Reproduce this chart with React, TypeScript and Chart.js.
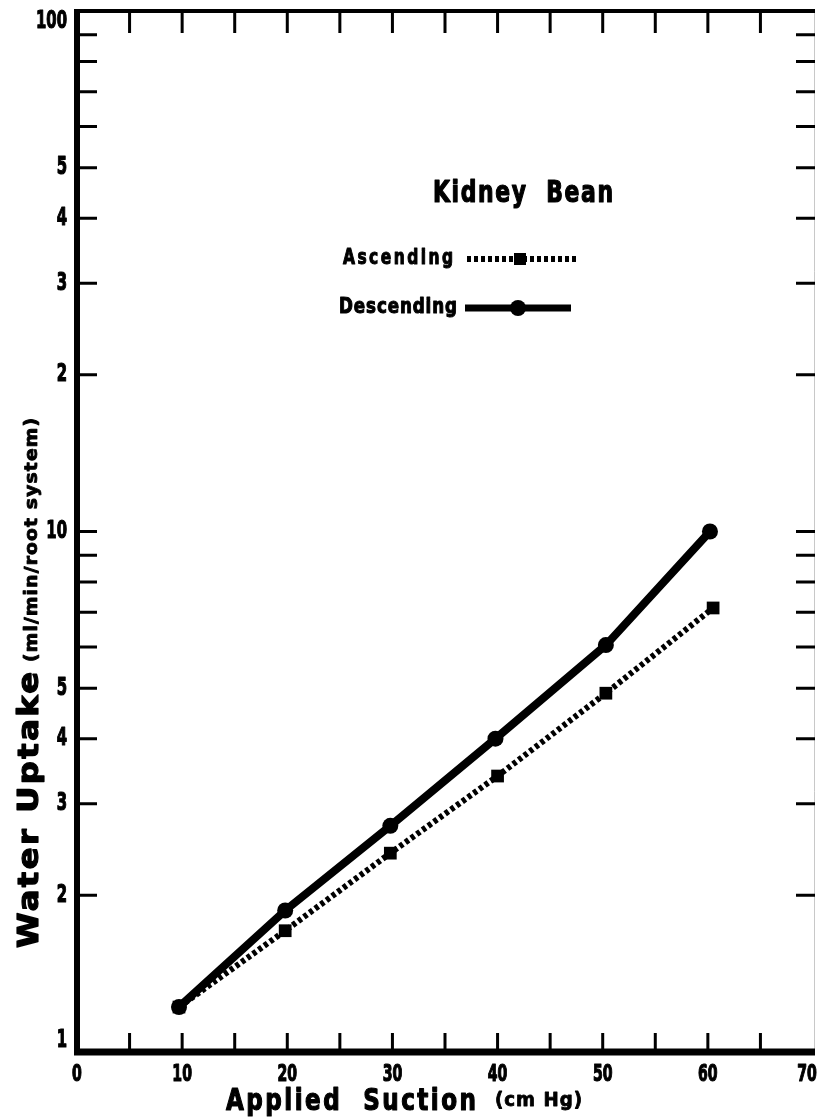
import React, { useEffect, useRef } from "react";
import { Chart, registerables } from "chart.js";

Chart.register(...registerables);

// Applied suction (cm Hg) and water uptake (ml/min/root system)
const descendingSuction = [9.7, 19.8, 29.8, 39.8, 50.3, 60.2];
const descendingUptake = [1.22, 1.87, 2.72, 4.0, 6.05, 10.0];
const ascendingSuction = [9.7, 19.8, 29.8, 40.0, 50.3, 60.5];
const ascendingUptake = [1.22, 1.71, 2.41, 3.39, 4.89, 7.13];

// Axis ticks
const xLabelTicks = [0, 10, 20, 30, 40, 50, 60, 70];
const xTickMarks = [5, 10, 15, 20, 25, 30, 35, 40, 45, 50, 55, 60, 65];
const yLabelTicks = [1, 2, 3, 4, 5, 10, 20, 30, 40, 50, 100];
const yLabelText = ["1", "2", "3", "4", "5", "10", "2", "3", "4", "5", "100"];
const yTickMarks = [2, 3, 4, 5, 6, 7, 8, 9, 10, 20, 30, 40, 50, 60, 70, 80, 90];

const FONT_FAMILY = '"DejaVu Sans Condensed", "DejaVu Sans", sans-serif';

function paintText(ctx: CanvasRenderingContext2D, text: string, x: number, heavy: number) {
  ctx.fillText(text, x, 0);
  if (heavy > 0) {
    ctx.lineWidth = heavy;
    ctx.lineJoin = "round";
    ctx.strokeStyle = "#000";
    ctx.strokeText(text, x, 0);
  }
}

function drawText(
  ctx: CanvasRenderingContext2D,
  text: string,
  x: number,
  y: number,
  size: number,
  sx: number,
  align: "left" | "right" | "center",
  heavy = 1
) {
  ctx.save();
  ctx.font = `bold ${size}px ${FONT_FAMILY}`;
  const w = ctx.measureText(text).width;
  ctx.translate(x, y);
  ctx.scale(sx, 1);
  ctx.textAlign = "left";
  ctx.textBaseline = "middle";
  let ox = 0;
  if (align === "right") ox = -w;
  if (align === "center") ox = -w / 2;
  paintText(ctx, text, ox, heavy);
  ctx.restore();
}

// Draws text squeezed or stretched horizontally to span a given width
function drawFitted(
  ctx: CanvasRenderingContext2D,
  text: string,
  x: number,
  y: number,
  width: number,
  size: number,
  spacing = 0,
  heavy = 1
) {
  ctx.save();
  ctx.font = `bold ${size}px ${FONT_FAMILY}`;
  (ctx as any).letterSpacing = `${spacing}px`;
  const w = ctx.measureText(text).width - spacing;
  ctx.translate(x, y);
  ctx.scale(width / w, 1);
  ctx.textAlign = "left";
  ctx.textBaseline = "middle";
  paintText(ctx, text, 0, heavy);
  ctx.restore();
}

const framePlugin = {
  id: "frameAndLabels",
  beforeDatasetsDraw(chart: any) {
    const ctx: CanvasRenderingContext2D = chart.ctx;
    const { left, right, top, bottom } = chart.chartArea;
    const xs = chart.scales.x;
    const ys = chart.scales.y;
    ctx.save();
    ctx.lineCap = "butt";

    // right border (faint)
    ctx.lineWidth = 1;
    ctx.strokeStyle = "#c8c8c8";
    ctx.beginPath();
    ctx.moveTo(right + 1.5, top);
    ctx.lineTo(right + 1.5, bottom);
    ctx.stroke();
    ctx.strokeStyle = "#000";

    // top border
    ctx.lineWidth = 4;
    ctx.beginPath();
    ctx.moveTo(left - 3, top);
    ctx.lineTo(right + 2, top);
    ctx.stroke();
    // bottom axis
    ctx.lineWidth = 7;
    ctx.beginPath();
    ctx.moveTo(left - 3, bottom);
    ctx.lineTo(right + 2, bottom);
    ctx.stroke();
    // left axis
    ctx.lineWidth = 6;
    ctx.beginPath();
    ctx.moveTo(left, top - 2);
    ctx.lineTo(left, bottom + 3);
    ctx.stroke();

    // x tick marks, top and bottom, pointing inward
    ctx.lineWidth = 3;
    for (const v of xTickMarks) {
      const px = xs.getPixelForValue(v);
      ctx.beginPath();
      ctx.moveTo(px, top);
      ctx.lineTo(px, top + 22);
      ctx.moveTo(px, bottom);
      ctx.lineTo(px, bottom - 19);
      ctx.stroke();
    }
    // y tick marks, left and right, pointing inward
    for (const v of yTickMarks) {
      const py = ys.getPixelForValue(v);
      ctx.beginPath();
      ctx.moveTo(left, py);
      ctx.lineTo(left + 20, py);
      ctx.moveTo(right + 2, py);
      ctx.lineTo(right - 17, py);
      ctx.stroke();
    }

    ctx.fillStyle = "#000";
    // y tick labels
    yLabelTicks.forEach((v, i) => {
      let py = ys.getPixelForValue(v);
      py = Math.max(top + 10, Math.min(bottom - 12, py));
      drawText(ctx, yLabelText[i], left - 10, py, 25, 0.66, "right", 1.2);
    });
    // x tick labels
    for (const v of xLabelTicks) {
      const px = xs.getPixelForValue(v);
      drawText(ctx, String(v), Math.min(px, right - 6), bottom + 23, 23, 0.68, "center", 1.2);
    }

    // x axis title
    drawFitted(ctx, "Applied  Suction", 226, 1102, 250, 31, 3, 1.2);
    drawFitted(ctx, "(cm Hg)", 495, 1101, 87, 20, 1, 0.8);

    // y axis title, rotated
    ctx.save();
    ctx.translate(31, 948);
    ctx.rotate(-Math.PI / 2);
    drawFitted(ctx, "Water Uptake", 0, 0, 276, 28, 2, 1.2);
    drawFitted(ctx, "(ml/min/root system)", 286, 1, 244, 18, 1, 0.8);
    ctx.restore();

    // chart caption and legend
    drawFitted(ctx, "Kidney  Bean", 433, 194, 180, 30, 2, 1.2);
    drawFitted(ctx, "Ascending", 343, 259, 110, 21, 3, 1);
    drawFitted(ctx, "Descending", 339, 308, 118, 21, 1, 1);

    // legend sample: ascending (dotted with square)
    ctx.lineWidth = 6;
    ctx.setLineDash([4, 3]);
    ctx.beginPath();
    ctx.moveTo(467, 259);
    ctx.lineTo(577, 259);
    ctx.stroke();
    ctx.setLineDash([]);
    ctx.fillRect(514, 253, 12, 12);

    // legend sample: descending (solid with circle)
    ctx.lineWidth = 7;
    ctx.beginPath();
    ctx.moveTo(465, 308);
    ctx.lineTo(571, 308);
    ctx.stroke();
    ctx.beginPath();
    ctx.arc(518, 308, 8, 0, Math.PI * 2);
    ctx.fill();

    ctx.restore();
  },
};

export default function App() {
  const canvasRef = useRef<HTMLCanvasElement | null>(null);

  useEffect(() => {
    document.body.style.margin = "0";
    document.body.style.background = "#fff";
    const canvas = canvasRef.current;
    if (!canvas) return;

    const chart = new Chart(canvas, {
      type: "line",
      data: {
        datasets: [
          {
            label: "Descending",
            data: descendingSuction.map((x, i) => ({ x, y: descendingUptake[i] })),
            borderColor: "#000",
            backgroundColor: "#000",
            borderWidth: 8,
            pointStyle: "circle",
            pointRadius: 8,
            pointBorderWidth: 0,
            tension: 0,
          },
          {
            label: "Ascending",
            data: ascendingSuction.map((x, i) => ({ x, y: ascendingUptake[i] })),
            borderColor: "#000",
            backgroundColor: "#000",
            borderWidth: 6,
            borderDash: [4, 3],
            pointStyle: "rect",
            pointRadius: 9,
            pointBorderWidth: 0,
            tension: 0,
          },
        ],
      },
      options: {
        responsive: false,
        animation: false,
        devicePixelRatio: 1,
        layout: { padding: { left: 77, right: 2, top: 11, bottom: 65 } },
        plugins: {
          legend: { display: false },
          title: { display: false },
          tooltip: { enabled: false },
        },
        scales: {
          x: { type: "linear", min: 0, max: 70, display: false },
          y: { type: "logarithmic", min: 1, max: 100, display: false },
        },
      },
      plugins: [framePlugin],
    });

    return () => chart.destroy();
  }, []);

  return (
    <div style={{ width: 822, height: 1117, background: "#fff" }}>
      <canvas ref={canvasRef} width={822} height={1117} />
    </div>
  );
}
